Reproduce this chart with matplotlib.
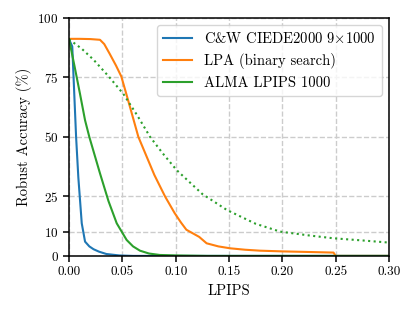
import matplotlib
matplotlib.use("Agg")
import matplotlib.pyplot as plt

plt.rcParams['font.family'] = 'serif'
plt.rcParams['font.serif'] = ['cmr10']
plt.rcParams['mathtext.fontset'] = 'cm'
plt.rcParams['axes.formatter.use_mathtext'] = True
plt.rcParams['font.size'] = 10

# C&W CIEDE2000 9x1000
cw_x = [0.0, 0.003, 0.0066, 0.0087, 0.0119, 0.015, 0.019, 0.023, 0.028, 0.035, 0.047, 0.06, 0.3]
cw_y = [91, 88, 50, 33, 13.7, 6, 4, 2.8, 1.8, 0.8, 0.2, 0, 0]

# LPA (binary search)
lpa_x = [0.0, 0.01, 0.02, 0.029, 0.033, 0.038, 0.044, 0.049, 0.055, 0.065, 0.08, 0.09, 0.099,
         0.105, 0.110, 0.118, 0.122, 0.129, 0.14, 0.151, 0.165, 0.179, 0.2, 0.22, 0.248, 0.25, 0.3]
lpa_y = [91.2, 91.2, 91.1, 90.8, 89, 85, 80, 75.4, 66, 50, 34, 25, 18,
         14, 11, 9, 8, 5.3, 4, 3.2, 2.6, 2.2, 1.9, 1.7, 1.4, 0, 0]

# ALMA LPIPS 1000
alma_x = [0.0, 0.005, 0.0103, 0.015, 0.019, 0.029, 0.037, 0.0447, 0.054, 0.06, 0.0665,
          0.075, 0.085, 0.1, 0.13, 0.3]
alma_y = [91, 80, 68, 57, 50, 34.7, 23, 13.7, 6.7, 4, 2.2, 1, 0.4, 0.2, 0, 0]

# dotted reference curve
dot_x = [0.0, 0.012, 0.023, 0.037, 0.051, 0.064, 0.076, 0.088, 0.101, 0.125, 0.148, 0.175, 0.198,
         0.225, 0.248, 0.275, 0.3]
dot_y = [91, 87, 82.4, 75.5, 68, 59, 50, 43, 36, 26, 19.3, 13.5, 10.2, 8.6, 7.4, 6.5, 5.6]

fig = plt.figure(figsize=(4.16, 3.14), dpi=100)
ax = fig.add_axes([0.166, 0.185, 0.769, 0.758])

ax.plot(cw_x, cw_y, color='#1f77b4', label=r'C&W CIEDE2000 9$\times$1000', lw=1.5)
ax.plot(lpa_x, lpa_y, color='#ff7f0e', label='LPA (binary search)', lw=1.5)
ax.plot(alma_x, alma_y, color='#2ca02c', label='ALMA LPIPS 1000', lw=1.5)
ax.plot(dot_x, dot_y, color='#2ca02c', ls=':', lw=1.5)

ax.set_xlim(0, 0.3)
ax.set_ylim(0, 100)
ax.set_xticks([0.0, 0.05, 0.10, 0.15, 0.20, 0.25, 0.30])
ax.set_xticklabels(['0.00', '0.05', '0.10', '0.15', '0.20', '0.25', '0.30'])
ax.set_yticks([0, 10, 25, 50, 75, 100])
ax.tick_params(labelsize=9.5, width=1.1, length=4)
for s in ax.spines.values():
    s.set_linewidth(1.1)
ax.grid(True, ls='--', color='#cccccc', lw=1)
ax.set_axisbelow(True)
ax.set_xlabel('LPIPS', fontsize=10.5)
ax.set_ylabel('Robust Accuracy (%)', fontsize=10.5)
ax.legend(loc='upper right', fontsize=10.5)

fig.savefig('out.png', dpi=100)
